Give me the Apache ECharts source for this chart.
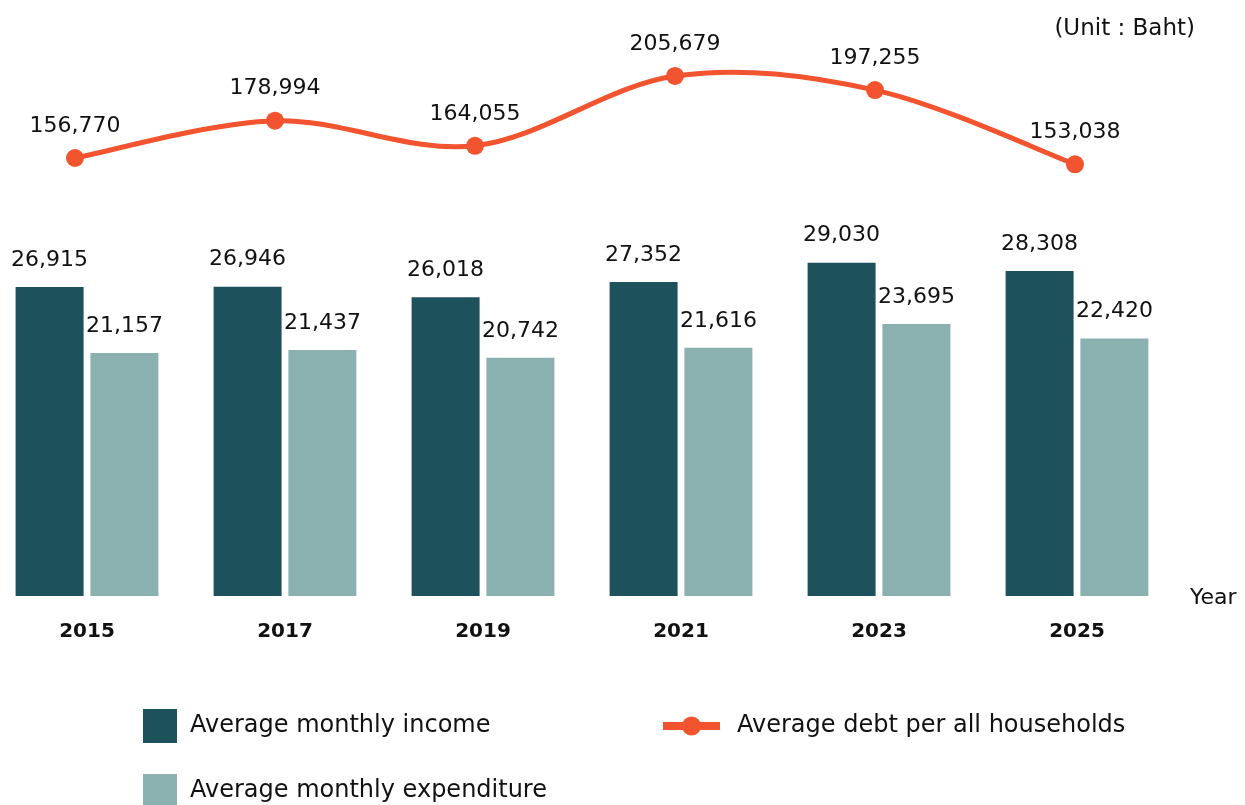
<!DOCTYPE html>
<html>
<head>
<meta charset="utf-8">
<script src="https://cdn.jsdelivr.net/npm/echarts@6/dist/echarts.min.js"></script>
<style>
  html, body { margin: 0; padding: 0; background: #fff; overflow: hidden; }
  /* shifted left so the first category can sit partly off the page */
  #chart { position: absolute; left: -25px; top: 0; width: 1270px; height: 805px; }
</style>
</head>
<body>
<div id="chart"></div>
<script>
const years = ["2015", "2017", "2019", "2021", "2023", "2025"];
const income = [26915, 26946, 26018, 27352, 29030, 28308];
const expenditure = [21157, 21437, 20742, 21616, 23695, 22420];
const debt = [156770, 178994, 164055, 205679, 197255, 153038];

const FONT = "DejaVu Sans";
const ORANGE = "#f1542f";
const fmt = (p) => (Array.isArray(p.value) ? p.value[1] : p.value).toLocaleString("en-US");

let myChart = echarts.init(document.getElementById("chart"), null, { renderer: "canvas" });

// smooth curve through the debt points (cardinal spline, like the original)
function renderCurve(params, api) {
  let i = params.dataIndex;
  let n = debt.length;
  if (i >= n - 1) return null;
  let pt = (k) => api.coord([Math.max(0, Math.min(n - 1, k)), debt[Math.max(0, Math.min(n - 1, k))]]);
  let p0 = pt(i - 1), p1 = pt(i), p2 = pt(i + 1), p3 = pt(i + 2);
  return {
    type: "bezierCurve",
    shape: {
      x1: p1[0], y1: p1[1], x2: p2[0], y2: p2[1],
      cpx1: p1[0] + (p2[0] - p0[0]) / 6, cpy1: p1[1] + (p2[1] - p0[1]) / 6,
      cpx2: p2[0] - (p3[0] - p1[0]) / 6, cpy2: p2[1] - (p3[1] - p1[1]) / 6
    },
    style: { stroke: ORANGE, lineWidth: 5, fill: null, lineCap: "round" }
  };
}

let option = {
  backgroundColor: "#fff",
  textStyle: { fontFamily: FONT, color: "#111" },
  grid: [
    { left: 13, right: 69, top: 30, bottom: 209 },
    { left: 0, right: 70, top: 30, bottom: 209 }
  ],
  xAxis: [
    {
      type: "category", gridIndex: 0, data: years,
      axisLine: { show: false }, axisTick: { show: false },
      axisLabel: { fontSize: 20, fontWeight: "bold", color: "#111", margin: 26, fontFamily: FONT }
    },
    { type: "category", gridIndex: 1, data: years, show: false }
  ],
  yAxis: [
    { type: "value", gridIndex: 0, min: 0, max: 49300, show: false, splitLine: { show: false } },
    { type: "value", gridIndex: 1, min: -104400, max: 233100, show: false, splitLine: { show: false } }
  ],
  legend: [
    {
      data: ["Average monthly income"], left: 168, top: 709, padding: 0,
      itemWidth: 34, itemHeight: 34, icon: "rect",
      textStyle: { fontSize: 24, color: "#111", fontFamily: FONT, padding: [6, 0, 0, 8] }
    },
    {
      data: ["Average monthly expenditure"], left: 168, top: 774, padding: 0,
      itemWidth: 34, itemHeight: 34, icon: "rect",
      textStyle: { fontSize: 24, color: "#111", fontFamily: FONT, padding: [2, 0, 0, 8] }
    },
    {
      data: ["Average debt per all households"], left: 684, top: 714, padding: 0,
      itemWidth: 57, itemHeight: 24,
      lineStyle: { color: ORANGE, width: 8, opacity: 1 },
      itemStyle: { color: ORANGE, opacity: 1 },
      textStyle: { fontSize: 24, color: "#111", fontFamily: FONT, padding: [0, 0, 0, 12] }
    }
  ],
  graphic: [
    {
      type: "text", right: 50, top: 18,
      style: { text: "(Unit : Baht)", font: "23px '" + FONT + "'", fill: "#111" }
    },
    {
      type: "text", left: 1215, top: 587,
      style: { text: "Year", font: "22px '" + FONT + "'", fill: "#111" }
    }
  ],
  series: [
    {
      name: "Average monthly income", type: "bar",
      xAxisIndex: 0, yAxisIndex: 0, data: income,
      barWidth: 68, barGap: "10%",
      itemStyle: { color: "#1d525c" },
      label: { show: true, position: "top", distance: 16, fontSize: 22, color: "#111", fontFamily: FONT, formatter: fmt }
    },
    {
      name: "Average monthly expenditure", type: "bar",
      xAxisIndex: 0, yAxisIndex: 0, data: expenditure,
      barWidth: 68,
      itemStyle: { color: "#8ab0af" },
      label: { show: true, position: "top", distance: 16, fontSize: 22, color: "#111", fontFamily: FONT, formatter: fmt }
    },
    {
      type: "custom", xAxisIndex: 1, yAxisIndex: 1, silent: true, z: 2,
      data: years.map((y, i) => [i, debt[i]]),
      renderItem: renderCurve
    },
    {
      name: "Average debt per all households", type: "line",
      xAxisIndex: 1, yAxisIndex: 1, data: debt, z: 3,
      symbol: "circle", symbolSize: 18,
      lineStyle: { color: ORANGE, width: 5, opacity: 0 },
      itemStyle: { color: ORANGE },
      label: { show: true, position: "top", distance: 12, fontSize: 22, color: "#111", fontFamily: FONT, formatter: fmt }
    }
  ]
};

myChart.setOption(option);
window.addEventListener("resize", function () {
  myChart.resize();
});
</script>
</body>
</html>
